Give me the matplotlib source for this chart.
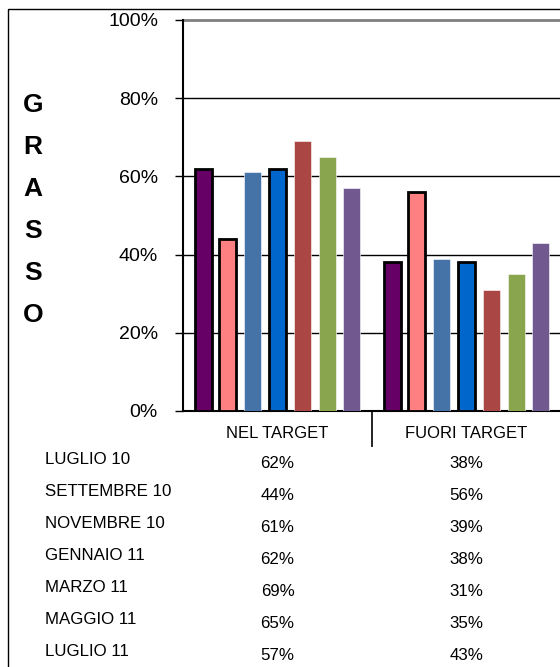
import numpy as np
import matplotlib
matplotlib.use('Agg')
import matplotlib.pyplot as plt
from matplotlib.patches import Rectangle
from matplotlib.transforms import blended_transform_factory

plt.rcParams['font.family'] = ['Liberation Sans', 'DejaVu Sans']

categorie = ['NEL TARGET', 'FUORI TARGET']
periodi = ['LUGLIO 10', 'SETTEMBRE 10', 'NOVEMBRE 10', 'GENNAIO 11',
           'MARZO 11', 'MAGGIO 11', 'LUGLIO 11']
nel_target = [62, 44, 61, 62, 69, 65, 57]
fuori_target = [38, 56, 39, 38, 31, 35, 43]
colori = ['#660066', '#FF8080', '#4572A7', '#0066CC', '#AA4643', '#89A54E', '#71588F']
bordo = [True, True, False, True, False, False, False]
yticks = [0, 20, 40, 60, 80, 100]

W, H = 560.0, 667.0
fig = plt.figure(figsize=(W / 100, H / 100), dpi=100)
ax = fig.add_axes([183 / W, 1 - 411 / H, 378 / W, 391 / H])

x = np.arange(len(categorie))
step = 0.131
width = 0.09
for i, periodo in enumerate(periodi):
    vals = [nel_target[i], fuori_target[i]]
    if bordo[i]:
        ax.bar(x + (i - 3) * step, vals, width, color=colori[i],
               edgecolor='black', linewidth=2.0, zorder=3)
    else:
        ax.bar(x + (i - 3) * step, vals, width, color=colori[i],
               edgecolor='white', linewidth=0.4, zorder=3)

ax.set_xlim(-0.5, 1.5)
ax.set_ylim(0, 100)

# griglia
for t in yticks[1:-1]:
    ax.axhline(t, color='black', linewidth=1, zorder=1)
ax.axhline(100, color='#808080', linewidth=2, zorder=1, clip_on=False)

ax.spines['top'].set_visible(False)
ax.spines['right'].set_visible(False)
ax.spines['left'].set_linewidth(1.5)
ax.spines['bottom'].set_linewidth(1.5)

ax.set_yticks(yticks)
ax.set_yticklabels(['%d%%' % t for t in yticks])
ax.tick_params(axis='y', direction='out', length=6, width=1, pad=12, labelsize=14)

ax.set_xticks([0.5])
ax.set_xticklabels([''])
ax.tick_params(axis='x', which='major', direction='out', length=26, width=1.2)
ax.set_xticks(x, minor=True)
ax.set_xticklabels(categorie, minor=True)
ax.tick_params(axis='x', which='minor', length=0, pad=11, labelsize=12)

# titolo verticale
for k, lettera in enumerate('GRASSO'):
    fig.text(33 / W, 1 - (105 + 42 * k) / H, lettera, ha='center', va='center',
             fontsize=19, fontweight='bold')

# tabella dati
trans = blended_transform_factory(ax.transData, fig.transFigure)
for i, periodo in enumerate(periodi):
    fig.text(45 / W, 1 - (460 + 32 * i) / H, periodo, ha='left', va='center', fontsize=12.2)
    ax.text(x[0], 1 - (463 + 32 * i) / H, '%d%%' % nel_target[i], transform=trans,
            ha='center', va='center', fontsize=12.2, clip_on=False)
    ax.text(x[1], 1 - (463 + 32 * i) / H, '%d%%' % fuori_target[i], transform=trans,
            ha='center', va='center', fontsize=12.2, clip_on=False)

# cornice esterna
fig.patches.append(Rectangle((8 / W, -0.05), 1.0, 1.05 - 9 / H, transform=fig.transFigure,
                             fill=False, edgecolor='black', linewidth=1))

fig.savefig('out.png', dpi=100)
